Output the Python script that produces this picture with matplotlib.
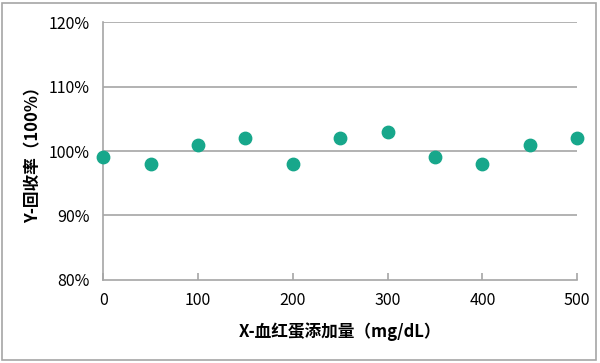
import matplotlib
matplotlib.use("Agg")
import matplotlib.pyplot as plt
from matplotlib.patches import Rectangle
from matplotlib.ticker import FuncFormatter

plt.rcParams['font.family'] = ['Noto Sans CJK SC', 'DejaVu Sans']

# data
added = [0, 50, 100, 150, 200, 250, 300, 350, 400, 450, 500]
recovery = [99, 98, 101, 102, 98, 102, 103, 99, 98, 101, 102]
x_ticks = [0, 100, 200, 300, 400, 500]
y_ticks = [80, 90, 100, 110, 120]

grey = "#a6a6a6"

fig = plt.figure(figsize=(6, 3.63), dpi=100)
ax = fig.add_axes([0.172, 0.229, 0.79, 0.71])

# outer border of the chart
fig.patches.append(Rectangle((0.004, 0.008), 0.99, 0.984, transform=fig.transFigure,
                             fill=False, edgecolor=grey, linewidth=1.2))

ax.scatter(added, recovery, s=80, color="#17a78b", zorder=3, clip_on=False)

ax.set_xlim(0, 500)
ax.set_ylim(80, 120)
ax.set_xticks(x_ticks)
ax.set_yticks(y_ticks)
ax.yaxis.set_major_formatter(FuncFormatter(lambda v, p: f"{v:.0f}%"))

for y in y_ticks[1:]:
    ax.axhline(y, color=grey, linewidth=1.2, zorder=1)

ax.spines['top'].set_visible(False)
ax.spines['right'].set_visible(False)
ax.spines['left'].set_color(grey)
ax.spines['bottom'].set_color(grey)
ax.spines['left'].set_linewidth(1.2)
ax.spines['bottom'].set_linewidth(1.2)

ax.tick_params(axis='x', direction='in', length=5, color=grey, width=1.2,
               labelsize=11.5, pad=9)
ax.tick_params(axis='y', length=0, labelsize=11.5, pad=10)

ax.set_xlabel("X-血红蛋添加量（mg/dL）", fontsize=12, fontweight="bold", labelpad=9)
ax.set_ylabel("Y-回收率（100%）", fontsize=12, fontweight="bold", labelpad=4)

fig.savefig("out.png", dpi=100)
